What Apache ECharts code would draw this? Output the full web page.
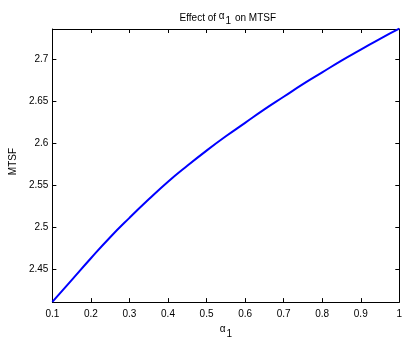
<!DOCTYPE html>
<html>
<head>
<meta charset="utf-8">
<script src="https://cdn.jsdelivr.net/npm/echarts@6/dist/echarts.min.js"></script>
<style>
html,body{margin:0;padding:0;background:#fff;}
#c{width:411px;height:344px;}
</style>
</head>
<body>
<div id="c"></div>
<script>
// Data
const alpha1 = [0.10,0.15,0.20,0.25,0.30,0.35,0.40,0.45,0.50,0.55,0.60,0.65,0.70,0.75,0.80,0.85,0.90,0.95,1.00];
const mtsf   = [2.411,2.437,2.463,2.488,2.511,2.533,2.554,2.573,2.591,2.608,2.624,2.640,2.655,2.670,2.684,2.698,2.711,2.724,2.736];
const xTicks = [0.1,0.2,0.3,0.4,0.5,0.6,0.7,0.8,0.9,1];
const yTicks = [2.45,2.5,2.55,2.6,2.65,2.7];
const xRange = [0.1, 1];
const yRange = [2.4108, 2.7356];

const FONT = 'Liberation Sans, Arial, sans-serif';
const chart = echarts.init(document.getElementById('c'), null, {renderer:'canvas'});

function fmtX(v){ return String(Math.round(v*10)/10); }
function fmtY(v){ return String(Math.round(v*100)/100); }

const lineStyle = {color:'#000', width:1};
const tickStyle = {show:true, inside:true, length:4, lineStyle:{color:'#000', width:1}};
const base = {fontFamily:FONT, fontSize:10, fontWeight:'normal', color:'#000', lineHeight:16, verticalAlign:'top'};

chart.setOption({
  animation:false,
  backgroundColor:'#fff',
  title:{
    text:'{n|Effect of }{a|α}{s|1}{n| on MTSF}',
    left:222.8, top:5, textAlign:'center',
    textStyle:{
      fontWeight:'normal',
      rich:{
        n:Object.assign({}, base, {padding:[3,0,0,0]}),
        a:Object.assign({}, base, {padding:[1,0,0,0]}),
        s:Object.assign({}, base, {padding:[6,1,0,1]})
      }
    }
  },
  grid:{left:46.3, right:11.7, top:29, bottom:38.3, containLabel:false, show:false},
  xAxis:[{
    type:'value', min:xRange[0], max:xRange[1], position:'bottom',
    name:'{a|α}{s|1}', nameLocation:'middle', nameGap:21,
    nameTextStyle:{
      fontWeight:'normal',
      rich:{
        a:Object.assign({}, base, {padding:[0,0,0,0]}),
        s:Object.assign({}, base, {padding:[5,0,0,1]})
      }
    },
    axisLine:{show:true, onZero:false, lineStyle:lineStyle},
    axisTick:Object.assign({customValues:xTicks}, tickStyle),
    axisLabel:{customValues:xTicks, formatter:fmtX, color:'#000', fontFamily:FONT, fontSize:10, margin:7},
    splitLine:{show:false}
  },{
    type:'value', min:xRange[0], max:xRange[1], position:'top',
    axisLine:{show:true, onZero:false, lineStyle:lineStyle},
    axisTick:Object.assign({customValues:xTicks}, tickStyle),
    axisLabel:{show:false},
    splitLine:{show:false}
  }],
  yAxis:[{
    type:'value', min:yRange[0], max:yRange[1], position:'left',
    name:'MTSF', nameLocation:'middle', nameGap:29, nameRotate:90,
    nameTextStyle:{fontFamily:FONT, fontSize:10, color:'#000', padding:[0,0,0,8]},
    axisLine:{show:true, onZero:false, lineStyle:lineStyle},
    axisTick:Object.assign({customValues:yTicks}, tickStyle),
    axisLabel:{customValues:yTicks, formatter:fmtY, color:'#000', fontFamily:FONT, fontSize:10, margin:4},
    splitLine:{show:false}
  },{
    type:'value', min:yRange[0], max:yRange[1], position:'right',
    axisLine:{show:true, onZero:false, lineStyle:lineStyle},
    axisTick:Object.assign({customValues:yTicks}, tickStyle),
    axisLabel:{show:false},
    splitLine:{show:false}
  }],
  series:[{
    type:'line',
    xAxisIndex:0, yAxisIndex:0,
    data:alpha1.map((x,i)=>[x, mtsf[i]]),
    showSymbol:false, symbol:'none', smooth:true,
    clip:false,
    lineStyle:{color:'#0000ff', width:2}
  }]
});
</script>
</body>
</html>
